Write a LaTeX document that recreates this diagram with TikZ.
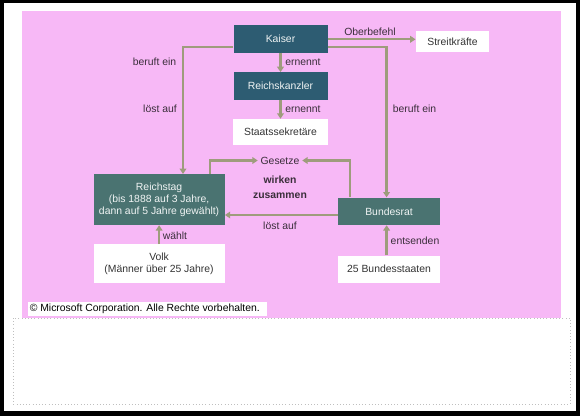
\documentclass[tikz,border=0pt]{standalone}
\usepackage{fontspec}
\setmainfont{Liberation Sans}
\usetikzlibrary{arrows.meta}
\definecolor{pinkbg}{HTML}{F7B8F6}
\definecolor{navy}{HTML}{2D5C72}
\definecolor{teal}{HTML}{4A7371}
\definecolor{line}{HTML}{9E9C7C}
\definecolor{ink}{HTML}{3A2E3A}

\begin{document}
\begin{tikzpicture}[x=0.75pt,y=-0.75pt,every node/.style={font=\fontsize{7.8}{9}\selectfont,inner sep=1pt,text=ink},
  navybox/.style={fill=navy,text=white!92!teal,minimum width=70.5pt,minimum height=20.5pt},
  tealbox/.style={fill=teal,text=white!92!teal,minimum width=98.25pt,align=center},
  whitebox/.style={fill=white,text=black!80,align=center},
  arr/.style={draw=line,line width=1.7pt,-{Triangle[length=4pt,width=5pt]}}]
\useasboundingbox (0,0) rectangle (580,416);
% frame, background
\fill[black] (0,0) rectangle (580,416);
\fill[white] (3.5,3) rectangle (576,411);
\fill[pinkbg] (22,11) rectangle (561,318);
\draw[dotted,black!25] (13,318) rectangle (570,404);
% boxes
\node[navybox] (kaiser) at (280.5,39) {Kaiser};
\node[navybox] (kanzler) at (280.5,86) {Reichskanzler};
\node[whitebox,minimum width=71pt,minimum height=19.5pt] (staats) at (280.5,132) {Staatssekretäre};
\node[whitebox,minimum width=55pt,minimum height=15.75pt] (streit) at (452.5,42) {Streitkräfte};
\node[tealbox,minimum height=38pt] (reichstag) at (159.1,199.6) {Reichstag\\(bis 1888 auf 3 Jahre,\\dann auf 5 Jahre gewählt)};
\node[tealbox,minimum width=76.5pt,minimum height=20.5pt] (bundesrat) at (389,211.3) {Bundesrat};
\node[whitebox,minimum width=98.25pt,minimum height=28.8pt] (volk) at (159.1,263.5) {Volk\\(Männer über 25 Jahre)};
\node[whitebox,minimum width=76.5pt,minimum height=20.25pt] (staaten) at (389,269.2) {25 Bundesstaaten};
\node[inner sep=2pt] (gesetze) at (280,160.5) {Gesetze};
\node[align=center,font=\bfseries\fontsize{7.8}{11}\selectfont] (wirken) at (280,187.5) {wirken\\zusammen};
% turning points
\coordinate (ob) at (0,39.3);
\coordinate (lx) at (183,47);
\coordinate (rx) at (386.6,47);
\coordinate (gl) at (210,160.5);
\coordinate (gr) at (350,160.5);
\coordinate (la) at (0,215);
% connectors
\draw[arr] (kaiser.east |- ob) -- (streit.west |- ob);
\draw[arr] (kaiser.south) -- (kanzler.north);
\draw[arr] (kanzler.south) -- (staats.north);
\draw[arr] (kaiser.west |- lx) -| (reichstag.north -| lx);
\draw[arr] (kaiser.east |- rx) -| (bundesrat.north -| rx);
\draw[arr] (reichstag.north -| gl) |- (gesetze.west);
\draw[arr] (bundesrat.north -| gr) |- (gesetze.east);
\draw[arr] (bundesrat.west |- la) -- (reichstag.east |- la);
\draw[arr] (volk.north) -- (reichstag.south);
\draw[arr] (staaten.north -| rx) -- (bundesrat.south -| rx);
% labels
\node (lob) at (370,31.5) {Oberbefehl};
\node (ern1) at (303,62.5) {ernennt};
\node (ern2) at (303,109) {ernennt};
\node (bel) at (154.5,61.7) {beruft ein};
\node (lal) at (160,108.3) {löst auf};
\node (ber) at (414.5,108.3) {beruft ein};
\node (lam) at (280,226) {löst auf};
\node (waehlt) at (175,236) {wählt};
\node (ents) at (415,240.7) {entsenden};
% copyright
\fill[white] (27.7,301.7) rectangle (267,315.5);
\node[anchor=west,inner sep=0pt,text=black] (copy) at (29.5,308.5) {© Microsoft Corporation. Alle Rechte vorbehalten.};
\end{tikzpicture}
\end{document}
